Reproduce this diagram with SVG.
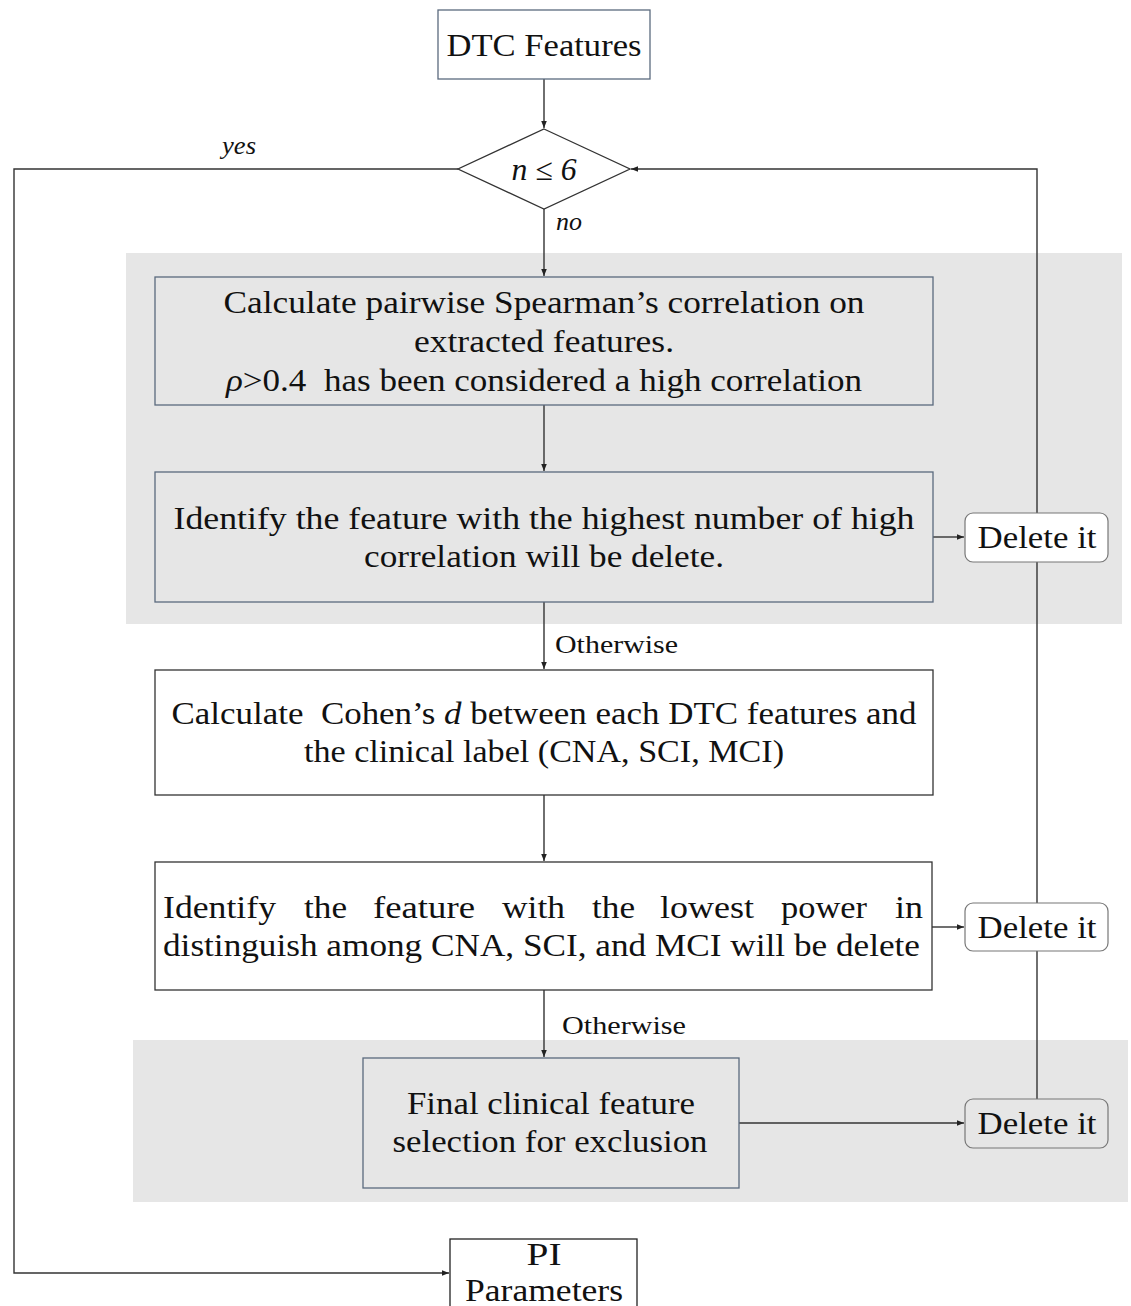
<svg xmlns="http://www.w3.org/2000/svg" width="1131" height="1306" viewBox="0 0 1131 1306">
<defs>
<marker id="arr" viewBox="0 0 10 10" refX="10" refY="5" markerWidth="7" markerHeight="7" markerUnits="userSpaceOnUse" orient="auto">
<path d="M0,1 L10,5 L0,9 z" fill="#222"/>
</marker>
<style>
.t{font-family:"Liberation Serif","DejaVu Serif",serif;font-size:31px;fill:#111;text-anchor:middle}
.s{font-family:"Liberation Serif","DejaVu Serif",serif;font-size:25px;fill:#111}
.i{font-style:italic}
.bg{fill:#e6e6e6}
.bb{fill:none;stroke:#5b6a7e;stroke-width:1.3}
.bd{fill:#fff;stroke:#333;stroke-width:1.3}
.del{stroke:#777;stroke-width:1.2}
.c{fill:none;stroke:#333;stroke-width:1.4}
</style>
</defs>
<rect width="1131" height="1306" fill="#fff"/>
<g id="regions">
<rect class="bg" x="126" y="253" width="996" height="371"/>
<rect class="bg" x="133" y="1040" width="995" height="162"/>
</g>
<g id="connectors">
<path class="c" d="M544,79 V128" marker-end="url(#arr)"/>
<path class="c" d="M544,209 V276" marker-end="url(#arr)"/>
<path class="c" d="M544,405 V471" marker-end="url(#arr)"/>
<path class="c" d="M544,602 V669" marker-end="url(#arr)"/>
<path class="c" d="M544,795 V861" marker-end="url(#arr)"/>
<path class="c" d="M544,990 V1057" marker-end="url(#arr)"/>
<path class="c" d="M458,169 H14 V1273 H449" marker-end="url(#arr)"/>
<path class="c" d="M933,537 H964" marker-end="url(#arr)"/>
<path class="c" d="M932,927 H964" marker-end="url(#arr)"/>
<path class="c" d="M739,1123 H964" marker-end="url(#arr)"/>
<path class="c" d="M1037,513 V169 H631" marker-end="url(#arr)"/>
<path class="c" d="M1037,562 V903"/>
<path class="c" d="M1037,951 V1099"/>
<text class="s i" x="222" y="154" textLength="34" lengthAdjust="spacingAndGlyphs">yes</text>
<text class="s i" x="556" y="230" textLength="26" lengthAdjust="spacingAndGlyphs">no</text>
<text class="s" x="555" y="653" textLength="123" lengthAdjust="spacingAndGlyphs">Otherwise</text>
<text class="s" x="562" y="1034" textLength="124" lengthAdjust="spacingAndGlyphs">Otherwise</text>
</g>
<g id="dtc">
<rect x="438" y="10" width="212" height="69" fill="#fff" stroke="#5b6a7e" stroke-width="1.3"/>
<text class="t" x="544" y="56" textLength="195" lengthAdjust="spacingAndGlyphs">DTC Features</text>
</g>
<g id="decision">
<polygon points="544,129 630,169 544,209 458,169" fill="#fff" stroke="#333" stroke-width="1.3"/>
<text class="t i" x="544" y="180" textLength="65" lengthAdjust="spacingAndGlyphs">n ≤ 6</text>
</g>
<g id="spearman">
<rect class="bb" x="155" y="277" width="778" height="128"/>
<text class="t" x="544" y="313" textLength="641" lengthAdjust="spacingAndGlyphs">Calculate pairwise Spearman’s correlation on</text>
<text class="t" x="544" y="352" textLength="260" lengthAdjust="spacingAndGlyphs">extracted features.</text>
<text class="t" x="544" y="391" textLength="636" lengthAdjust="spacingAndGlyphs"><tspan class="i">ρ</tspan>&gt;0.4&#160; has been considered a high correlation</text>
</g>
<g id="identify-high">
<rect class="bb" x="155" y="472" width="778" height="130"/>
<text class="t" x="544" y="529" textLength="741" lengthAdjust="spacingAndGlyphs">Identify the feature with the highest number of high</text>
<text class="t" x="544" y="567" textLength="360" lengthAdjust="spacingAndGlyphs">correlation will be delete.</text>
</g>
<g id="delete1">
<rect class="del" x="965" y="513" width="143" height="49" rx="8" fill="#fff"/>
<text class="t" x="1037" y="548" textLength="119" lengthAdjust="spacingAndGlyphs">Delete it</text>
</g>
<g id="cohen">
<rect class="bd" x="155" y="670" width="778" height="125"/>
<text class="t" x="544" y="724" textLength="745" lengthAdjust="spacingAndGlyphs">Calculate&#160; Cohen’s <tspan class="i">d</tspan> between each DTC features and</text>
<text class="t" x="544" y="762" textLength="480" lengthAdjust="spacingAndGlyphs">the clinical label (CNA, SCI, MCI)</text>
</g>
<g id="identify-low">
<rect class="bd" x="155" y="862" width="777" height="128"/>
<g class="t" style="text-anchor:start">
<text x="163" y="918" textLength="113" lengthAdjust="spacingAndGlyphs">Identify</text>
<text x="304" y="918" textLength="43" lengthAdjust="spacingAndGlyphs">the</text>
<text x="373" y="918" textLength="102" lengthAdjust="spacingAndGlyphs">feature</text>
<text x="502" y="918" textLength="63" lengthAdjust="spacingAndGlyphs">with</text>
<text x="592" y="918" textLength="43" lengthAdjust="spacingAndGlyphs">the</text>
<text x="660" y="918" textLength="94" lengthAdjust="spacingAndGlyphs">lowest</text>
<text x="781" y="918" textLength="86" lengthAdjust="spacingAndGlyphs">power</text>
<text x="895" y="918" textLength="28" lengthAdjust="spacingAndGlyphs">in</text>
<text x="163" y="956" textLength="757" lengthAdjust="spacingAndGlyphs">distinguish among CNA, SCI, and MCI will be delete</text>
</g>
</g>
<g id="delete2">
<rect class="del" x="965" y="903" width="143" height="48" rx="8" fill="#fff"/>
<text class="t" x="1037" y="938" textLength="119" lengthAdjust="spacingAndGlyphs">Delete it</text>
</g>
<g id="final">
<rect class="bb" x="363" y="1058" width="376" height="130"/>
<text class="t" x="551" y="1114" textLength="288" lengthAdjust="spacingAndGlyphs">Final clinical feature</text>
<text class="t" x="550" y="1152" textLength="315" lengthAdjust="spacingAndGlyphs">selection for exclusion</text>
</g>
<g id="delete3">
<rect class="del" x="965" y="1099" width="143" height="49" rx="8" fill="none"/>
<text class="t" x="1037" y="1134" textLength="119" lengthAdjust="spacingAndGlyphs">Delete it</text>
</g>
<g id="pi">
<rect x="450" y="1239" width="187" height="80" fill="#fff" stroke="#222" stroke-width="1.3"/>
<text class="t" x="544" y="1265" textLength="35" lengthAdjust="spacingAndGlyphs">PI</text>
<text class="t" x="544" y="1301" textLength="158" lengthAdjust="spacingAndGlyphs">Parameters</text>
</g>
</svg>
